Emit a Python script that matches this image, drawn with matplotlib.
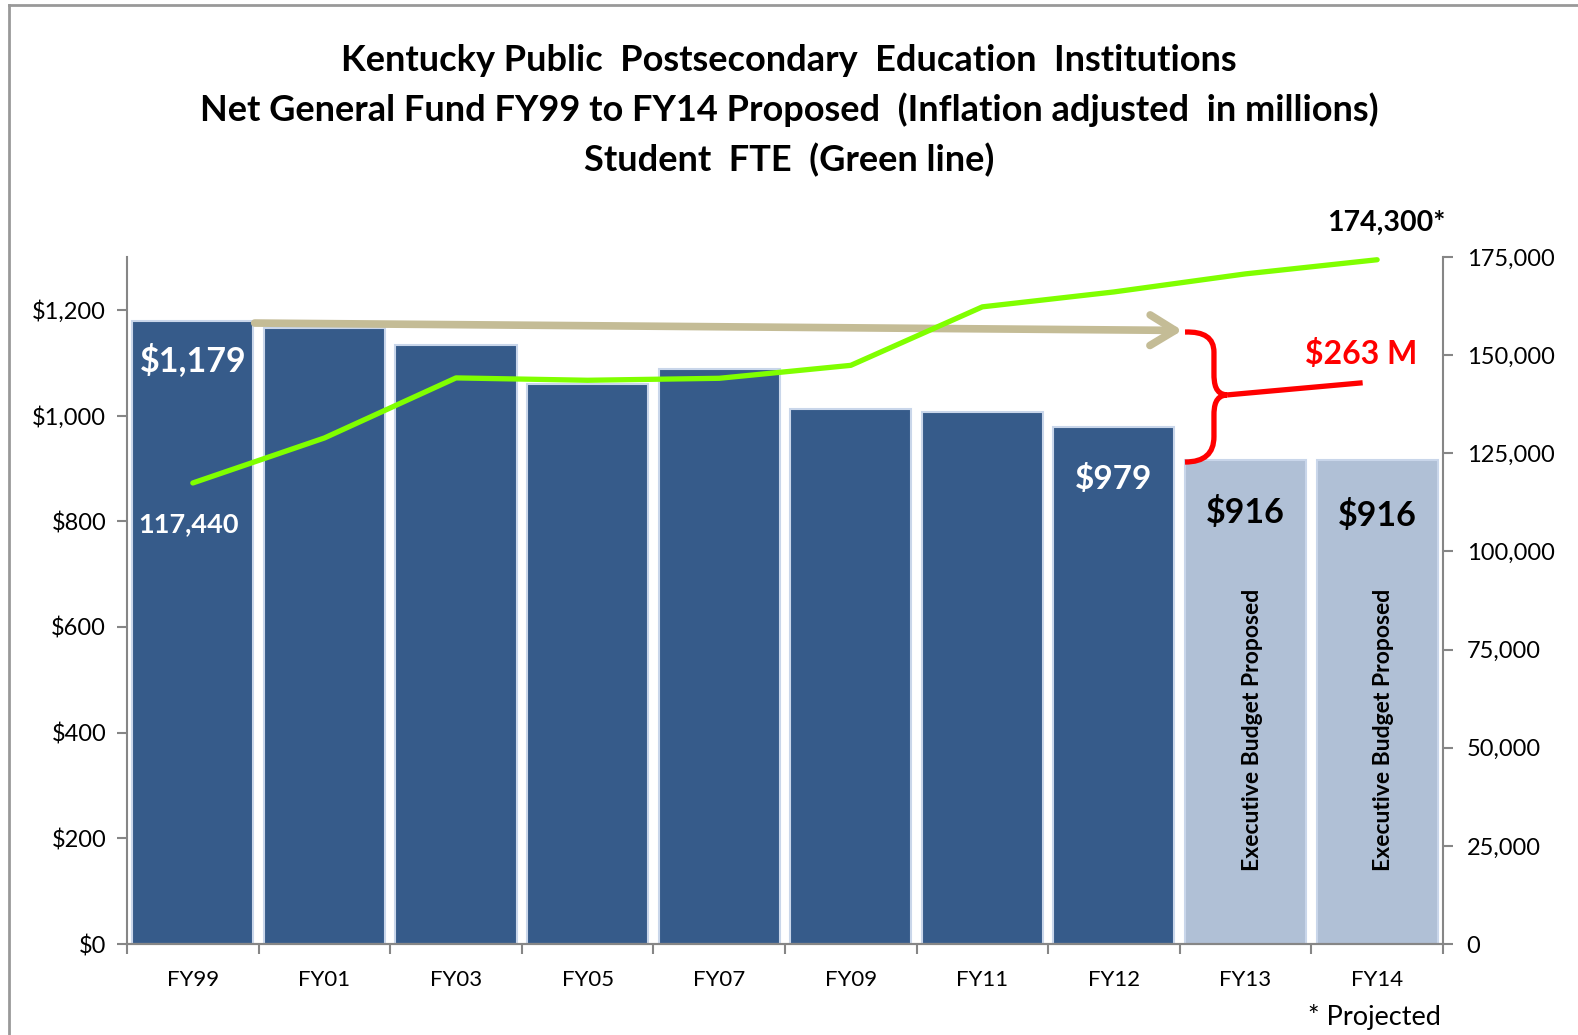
import matplotlib
matplotlib.use("Agg")
import matplotlib.pyplot as plt
from matplotlib.path import Path
from matplotlib.patches import PathPatch, FancyArrowPatch
from matplotlib.ticker import FuncFormatter
import numpy as np

plt.rcParams['font.family'] = ['Lato', 'DejaVu Sans']

# Fiscal years shown on the category axis
years = ["FY99", "FY01", "FY03", "FY05", "FY07", "FY09", "FY11", "FY12", "FY13", "FY14"]
# Net General Fund, inflation adjusted ($ millions)
funding = [1179, 1166, 1133, 1059, 1089, 1013, 1007, 979, 916, 916]
# Student FTE (green line)
fte = [117440, 128900, 144200, 143600, 144100, 147400, 162300, 166100, 170700, 174300]
# Years that are executive budget proposals rather than actuals
proposed = [False] * 8 + [True, True]

dark_blue = "#365B8A"
light_blue = "#B0C0D6"
green = "#80FF00"
tan = "#C4BC96"
axis_grey = "#868686"

fig = plt.figure(figsize=(15.78, 10.35), dpi=100)
ax = fig.add_axes([0.0805, 0.0879, 0.8339, 0.6638])
ax2 = ax.twinx()

x = np.arange(len(years))
colors = [light_blue if p else dark_blue for p in proposed]
bars = ax.bar(x, funding, width=0.92, color=colors, edgecolor="#C9D6EA", linewidth=1.5, zorder=2)

ax.set_xlim(-0.5, len(years) - 0.5)
ax.set_ylim(0, 1300)
ax2.set_ylim(0, 175000)

# Student FTE line on the secondary axis
ax2.plot(x, fte, color=green, lw=3.8, solid_capstyle="round", zorder=5)

# Axis styling
for a in (ax, ax2):
    a.spines["top"].set_visible(False)
    for side in ("left", "right", "bottom"):
        a.spines[side].set_color(axis_grey)
        a.spines[side].set_linewidth(1.5)
ax.spines["right"].set_visible(False)
ax2.spines["left"].set_visible(False)

ax.set_yticks(np.arange(0, 1201, 200))
ax.yaxis.set_major_formatter(FuncFormatter(lambda v, p: "${:,.0f}".format(v)))
ax.tick_params(axis="y", direction="out", length=7, width=1.5, color=axis_grey,
               labelsize=17, pad=8)

ax2.set_yticks(np.arange(0, 175001, 25000))
ax2.yaxis.set_major_formatter(FuncFormatter(lambda v, p: "{:,.0f}".format(v)))
ax2.tick_params(axis="y", direction="out", length=7, width=1.5, color=axis_grey,
                labelsize=17, pad=10)

ax.set_xticks(x)
ax.set_xticklabels(years)
ax.set_xticks(np.arange(-0.5, len(years) + 0.5, 1), minor=True)
ax.tick_params(axis="x", which="major", length=0, labelsize=16, pad=19)
ax.tick_params(axis="x", which="minor", direction="out", length=7, width=1.5, color=axis_grey)

# Value labels on the bars
ax.text(x[0], 1105, "${:,}".format(funding[0]), color="white", fontsize=24.5,
        fontweight="bold", ha="center", va="center", zorder=6)
ax.text(x[7], 880, "${:,}".format(funding[7]), color="white", fontsize=24,
        fontweight="bold", ha="center", va="center", zorder=6)
for i, yl in zip((8, 9), (817, 811)):
    ax.text(x[i], yl, "${:,}".format(funding[i]), color="black", fontsize=24.5,
            fontweight="bold", ha="center", va="center", zorder=6)
    ax.text(x[i] + 0.05, 405, "Executive Budget Proposed", rotation=90, color="black",
            fontsize=16.5, fontweight="bold", ha="center", va="center", zorder=6)

# FTE end-point labels
ax2.text(x[0] - 0.03, 107000, "{:,}".format(fte[0]), color="white", fontsize=19.5,
         fontweight="bold", ha="center", va="center", zorder=6)
ax2.text(9.07, 183800, "{:,}*".format(fte[9]), color="black", fontsize=20.5,
         fontweight="bold", ha="center", va="center", clip_on=False, zorder=6)

# Tan arrow showing the FY99 funding level carried forward
arrow = FancyArrowPatch((0.47, 1175), (7.52, 1161),
                        arrowstyle="->,head_length=0.9,head_width=0.55",
                        color=tan, lw=5.5, mutation_scale=20, zorder=4,
                        shrinkA=0, shrinkB=0)
ax.add_patch(arrow)

# Red brace marking the funding gap
verts = [
    (7.54, 1158), (7.76, 1160), (7.76, 1120), (7.76, 1080),
    (7.76, 1060), (7.77, 1040), (7.86, 1039),
    (7.77, 1038), (7.76, 1018), (7.76, 1000),
    (7.76, 960), (7.76, 912), (7.54, 912),
]
codes = [Path.MOVETO, Path.CURVE3, Path.CURVE3, Path.LINETO,
         Path.CURVE4, Path.CURVE4, Path.CURVE4,
         Path.CURVE4, Path.CURVE4, Path.CURVE4,
         Path.LINETO, Path.CURVE3, Path.CURVE3]
brace = PathPatch(Path(verts, codes), facecolor="none", edgecolor="#FF0000",
                  lw=3.8, zorder=6, capstyle="butt")
ax.add_patch(brace)
ax.plot([7.86, 8.89], [1039, 1062], color="#FF0000", lw=3.8, zorder=6,
        solid_capstyle="butt")
ax.text(8.88, 1117, "$263 M", color="#FF0000", fontsize=23, fontweight="bold",
        ha="center", va="center", zorder=6)

# Chart title
title_lines = [
    "Kentucky Public  Postsecondary  Education  Institutions",
    "Net General Fund FY99 to FY14 Proposed  (Inflation adjusted  in millions)",
    "Student  FTE  (Green line)",
]
for line, yf in zip(title_lines, (0.942, 0.894, 0.845)):
    fig.text(0.5, yf, line, ha="center", va="center", fontsize=26, fontweight="bold")

fig.text(0.871, 0.017, "* Projected", ha="center", va="center", fontsize=19.5)

# Outer frame lines
fig.add_artist(plt.Line2D([0.0057, 0.0057], [0, 0.995], color="#999999", lw=2,
                          transform=fig.transFigure))
fig.add_artist(plt.Line2D([0.0057, 1.0], [0.995, 0.995], color="#999999", lw=2,
                          transform=fig.transFigure))

fig.savefig("out.png", dpi=100, facecolor="white")
